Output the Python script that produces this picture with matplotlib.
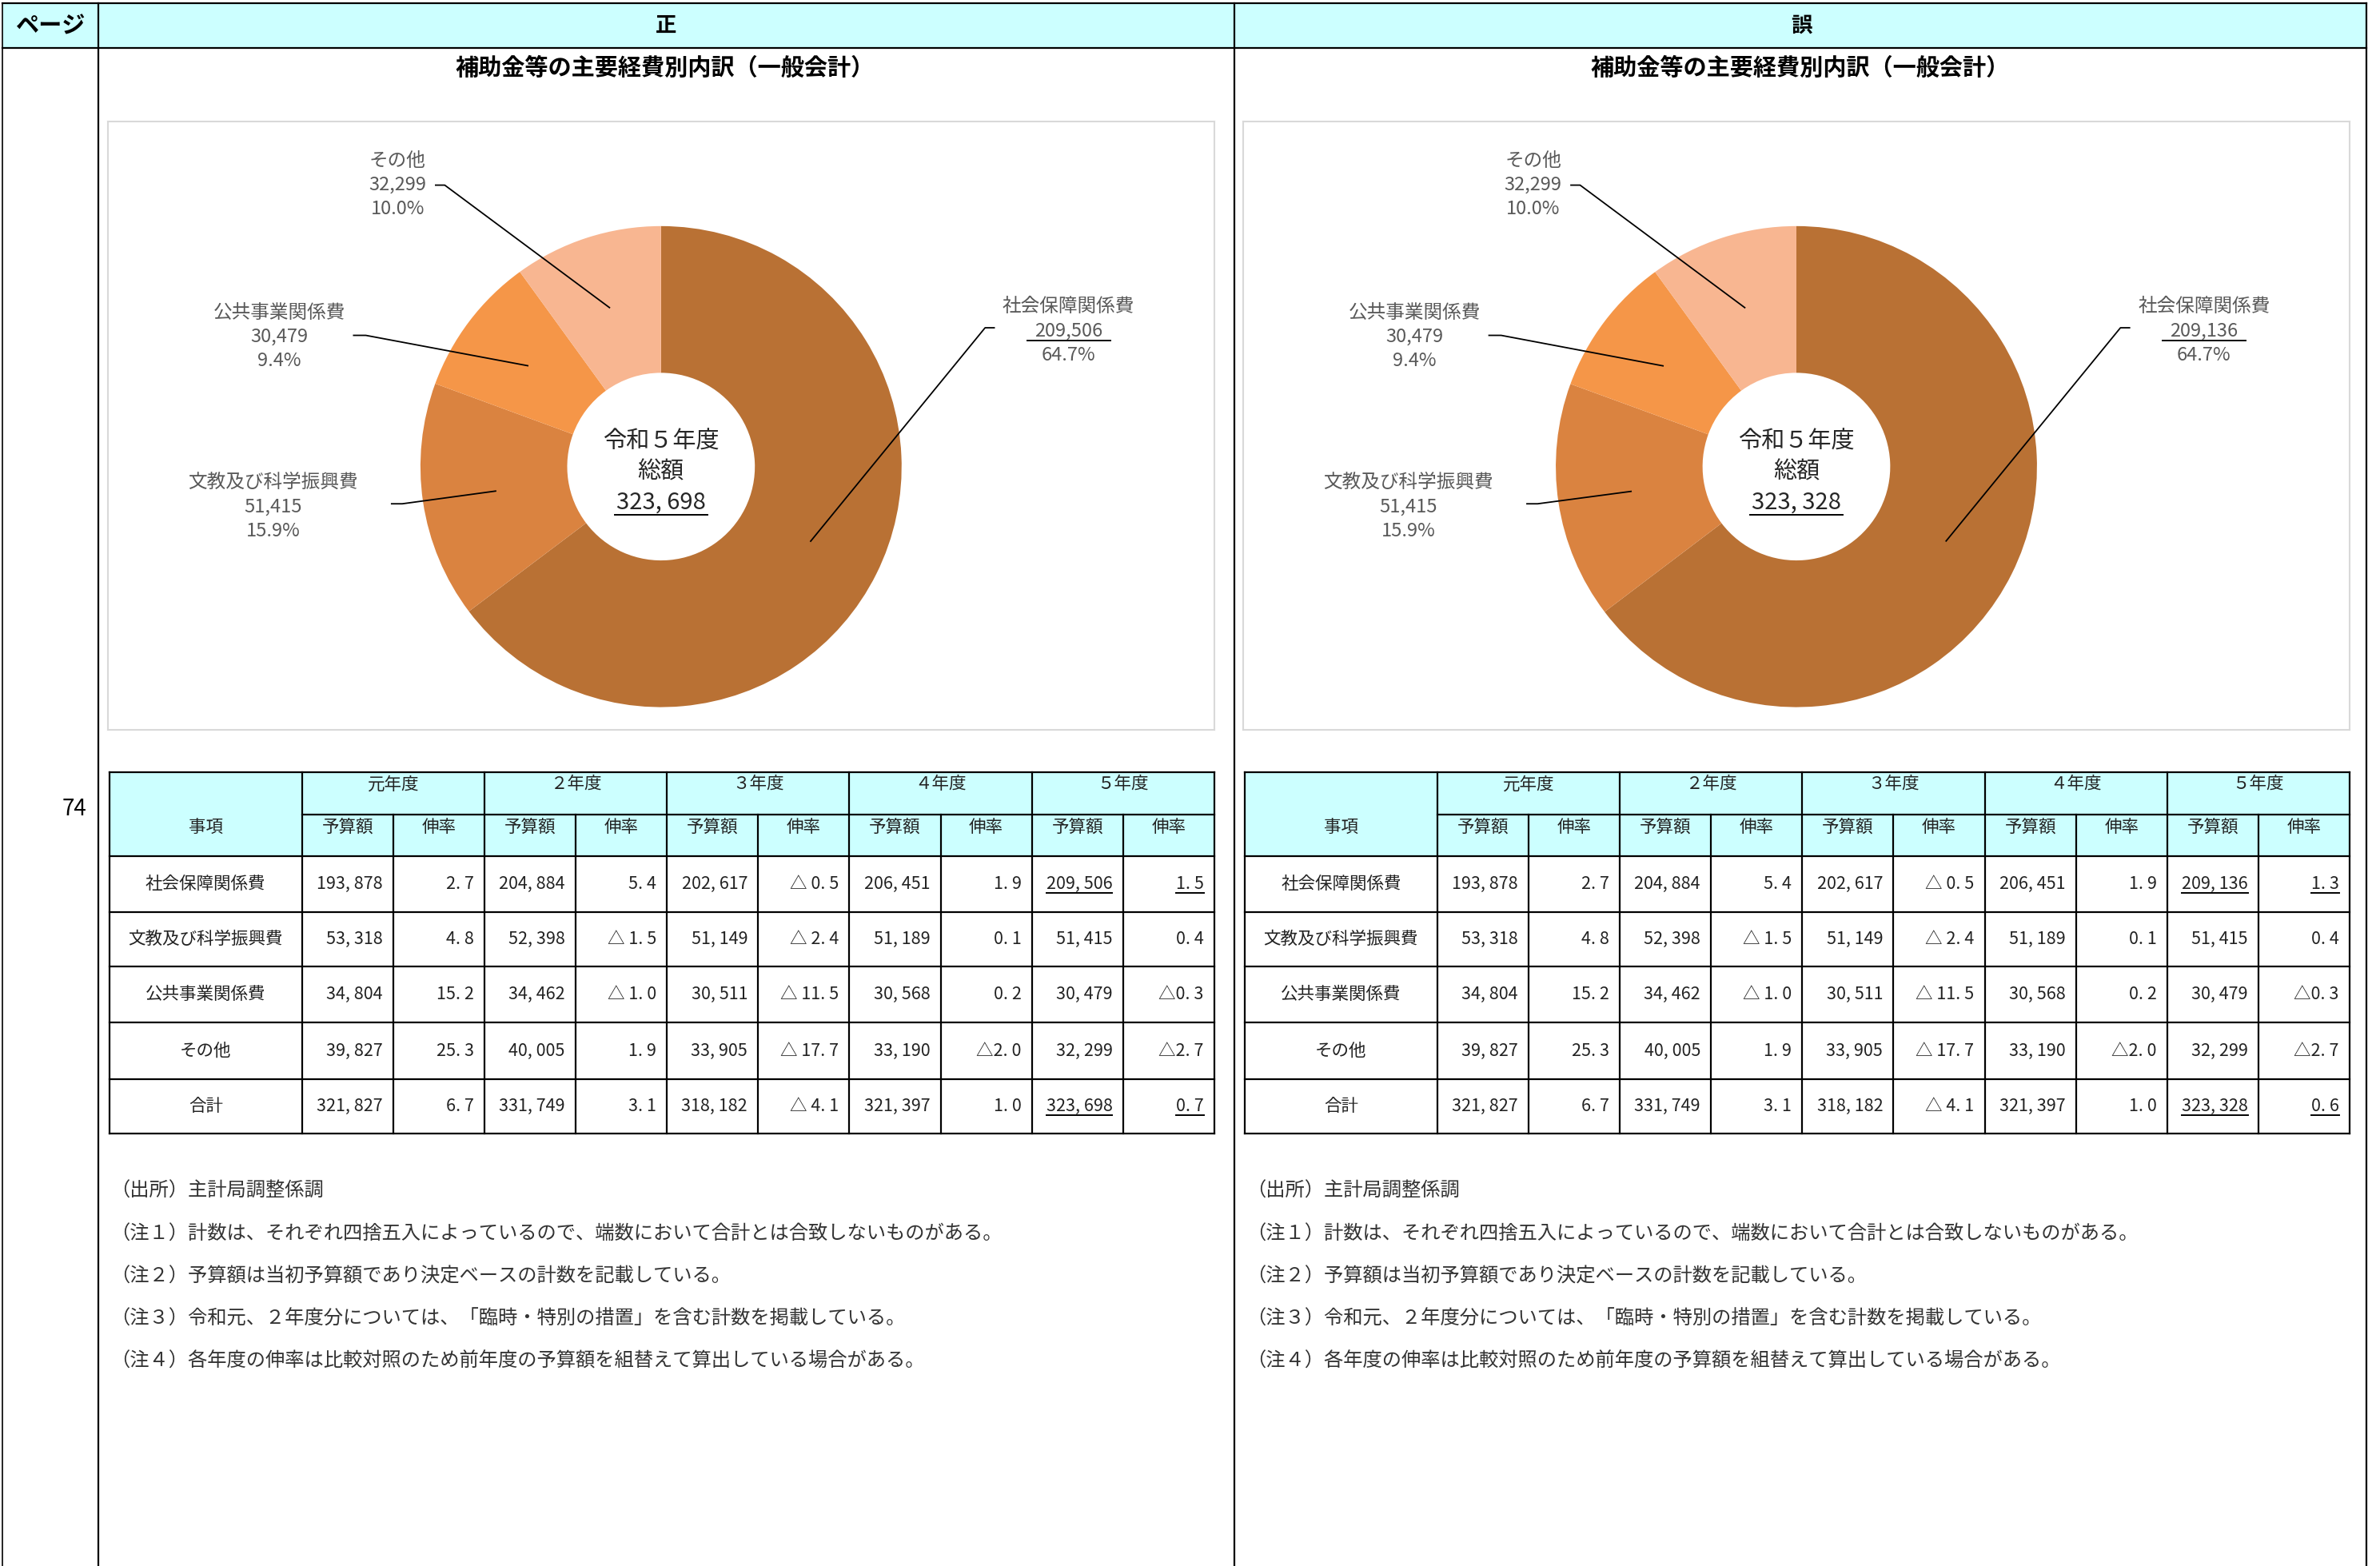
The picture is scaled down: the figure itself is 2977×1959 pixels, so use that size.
# 補助金等の主要経費別内訳 正誤表 (donut + table, two panels)

import math
import matplotlib.pyplot as plt
from matplotlib.patches import Rectangle

plt.rcParams['font.family'] = ['Noto Sans CJK JP', 'DejaVu Sans']

# donut data (令和5年度)
categories = ['社会保障関係費', '文教及び科学振興費', '公共事業関係費', 'その他']
values_correct = [209506, 51415, 30479, 32299]
values_wrong = [209136, 51415, 30479, 32299]
total_correct = 323698
total_wrong = 323328
colors = ['#B97134', '#DA8340', '#F59648', '#F8B691']

# table data
years = ['元年度', '２年度', '３年度', '４年度', '５年度']
rows = ['社会保障関係費', '文教及び科学振興費', '公共事業関係費', 'その他', '合計']
budget_y1 = [193878, 53318, 34804, 39827, 321827]
budget_y2 = [204884, 52398, 34462, 40005, 331749]
budget_y3 = [202617, 51149, 30511, 33905, 318182]
budget_y4 = [206451, 51189, 30568, 33190, 321397]
budget_y5_correct = [209506, 51415, 30479, 32299, 323698]
budget_y5_wrong = [209136, 51415, 30479, 32299, 323328]
growth_y1 = [2.7, 4.8, 15.2, 25.3, 6.7]
growth_y2 = [5.4, -1.5, -1.0, 1.9, 3.1]
growth_y3 = [-0.5, -2.4, -11.5, -17.7, -4.1]
growth_y4 = [1.9, 0.1, 0.2, -2.0, 1.0]
growth_y5_correct = [1.5, 0.4, -0.3, -2.7, 0.7]
growth_y5_wrong = [1.3, 0.4, -0.3, -2.7, 0.6]

notes = [
    '（出所）主計局調整係調',
    '（注１）計数は、それぞれ四捨五入によっているので、端数において合計とは合致しないものがある。',
    '（注２）予算額は当初予算額であり決定ベースの計数を記載している。',
    '（注３）令和元、２年度分については、「臨時・特別の措置」を含む計数を掲載している。',
    '（注４）各年度の伸率は比較対照のため前年度の予算額を組替えて算出している場合がある。',
]

W, H = 1568, 1032  # layout units (page scaled)
fig = plt.figure(figsize=(29.77, 19.59), dpi=100)
pg = fig.add_axes([0, 0, 1, 1])
pg.set_xlim(0, W)
pg.set_ylim(H, 0)
pg.axis('off')

LW = 1.6
HEAD = '#CCFFFF'
LABEL_C = '#595959'
TXT_C = '#222222'

# page frame
pg.add_patch(Rectangle((1.5, 2), 1557.5, 29.5, facecolor=HEAD, edgecolor='none'))
for y in [2, 31.5]:
    pg.plot([1.5, 1559], [y, y], color='black', lw=LW)
for x in [1.5, 65, 813, 1559]:
    pg.plot([x, x], [2, H], color='black', lw=LW if x != 1.5 else 1.2)
pg.text(33, 17, 'ページ', ha='center', va='center', fontsize=21, fontweight='bold')
pg.text(439, 17, '正', ha='center', va='center', fontsize=19, fontweight='bold')
pg.text(1187, 17, '誤', ha='center', va='center', fontsize=19, fontweight='bold')
pg.text(49, 533, '74', ha='center', va='center', fontsize=20)

underline_jobs = []


def fmt_num(v):
    return f'{v:,}'.replace(',', ', ')


def fmt_rate(v, gap):
    s = f'{abs(v):.1f}'.replace('.', '. ')
    return ('△' + gap + s) if v < 0 else s


def draw_panel(ox, vals, total, bud5, gr5):
    # title
    pg.text(ox + 438, 45, '補助金等の主要経費別内訳（一般会計）', ha='center', va='center',
            fontsize=21, fontweight='bold')

    # donut
    cx, cy, R = ox + 435.5, 307.5, 158.5
    bx0, by0, bx1, by1 = ox + 71, 80, ox + 800, 481
    ax = fig.add_axes([bx0 / W, 1 - by1 / H, (bx1 - bx0) / W, (by1 - by0) / H])
    ax.set_zorder(2)
    wedges, _ = ax.pie(vals, colors=colors, startangle=90, counterclock=False,
                       wedgeprops=dict(width=0.61, linewidth=0))
    ax.set_aspect('auto')
    ax.set_xlim((bx0 - cx) / R, (bx1 - cx) / R)
    ax.set_ylim((cy - by1) / R, (cy - by0) / R)
    ax.set_frame_on(True)
    ax.patch.set_alpha(0)
    for sp in ax.spines.values():
        sp.set_color('#D9D9D9')
        sp.set_linewidth(1.5)

    def d(x, y):
        return (x - cx) / R, (cy - y) / R

    # label layout: text centre x, first line y, leader start, knee offset
    lab = [
        (704, 202, (655, 216), -6),
        (180, 318, (258, 332), 7),
        (184, 206, (233, 221), 8),
        (262, 106, (287, 122), 6),
    ]
    s = sum(vals)
    for w, name, v, (tx, ty, (sx, sy), k) in zip(wedges, categories, vals, lab):
        tx += ox
        sx += ox
        ax.text(*d(tx, ty), name, ha='center', va='center', fontsize=17, color=LABEL_C)
        t2 = ax.text(*d(tx, ty + 16), f'{v:,}', ha='center', va='center', fontsize=17,
                     color=LABEL_C)
        ax.text(*d(tx, ty + 32), f'{v / s * 100:.1f}%', ha='center', va='center',
                fontsize=17, color=LABEL_C)
        if name == '社会保障関係費':
            underline_jobs.append((t2, 5))
        th = math.radians((w.theta1 + w.theta2) / 2)
        ex, ey = 0.695 * math.cos(th), 0.695 * math.sin(th)
        p0 = d(sx, sy)
        p1 = d(sx + k, sy)
        ax.plot([p0[0], p1[0], ex], [p0[1], p1[1], ey], color='black', lw=1.3,
                clip_on=False)

    ax.text(*d(cx, 291), '令和５年度', ha='center', va='center', fontsize=21, color='#262626')
    ax.text(*d(cx, 311), '総額', ha='center', va='center', fontsize=21, color='#262626')
    tc = ax.text(*d(cx, 331), fmt_num(total), ha='center', va='center', fontsize=21,
                 color='#262626')
    underline_jobs.append((tc, 1))

    # table
    cols = [ox + 72] + [ox + 199 + 60.1 * i for i in range(11)]
    ry = [509, 537, 564, 601, 637, 674, 711, 747]
    pg.add_patch(Rectangle((cols[0], ry[0]), cols[-1] - cols[0], ry[2] - ry[0],
                           facecolor=HEAD, edgecolor='none'))
    for i, y in enumerate(ry):
        xa = cols[1] if i == 1 else cols[0]
        pg.plot([xa, cols[-1]], [y, y], color='black', lw=LW)
    for j, x in enumerate(cols):
        ya = ry[1] if (j >= 2 and j % 2 == 0 and j != len(cols) - 1) else ry[0]
        pg.plot([x, x], [ya, ry[-1]], color='black', lw=LW)

    fs = 15.5
    pg.text((cols[0] + cols[1]) / 2, 545, '事項', ha='center', va='center', fontsize=fs,
            color=TXT_C)
    for g, yr in enumerate(years):
        a, b, c = cols[1 + 2 * g], cols[2 + 2 * g], cols[3 + 2 * g]
        pg.text((a + c) / 2, 517, yr, ha='center', va='center', fontsize=fs, color=TXT_C)
        pg.text((a + b) / 2, 545, '予算額', ha='center', va='center', fontsize=fs, color=TXT_C)
        pg.text((b + c) / 2, 545, '伸率', ha='center', va='center', fontsize=fs, color=TXT_C)

    budgets = [budget_y1, budget_y2, budget_y3, budget_y4, bud5]
    growths = [growth_y1, growth_y2, growth_y3, growth_y4, gr5]
    gaps = [' ', ' ', ' ', '', '']
    for r, name in enumerate(rows):
        yc = (ry[r + 2] + ry[r + 3]) / 2
        pg.text((cols[0] + cols[1]) / 2, yc, name, ha='center', va='center', fontsize=fs,
                color=TXT_C)
        for g in range(5):
            tb = pg.text(cols[2 + 2 * g] - 7, yc, fmt_num(budgets[g][r]), ha='right',
                         va='center', fontsize=fs, color=TXT_C)
            tr = pg.text(cols[3 + 2 * g] - 7, yc, fmt_rate(growths[g][r], gaps[g]),
                         ha='right', va='center', fontsize=fs, color=TXT_C)
            if g == 4 and r in (0, 4):
                underline_jobs.append((tb, 0))
                underline_jobs.append((tr, 0))

    # notes
    for i, n in enumerate(notes):
        pg.text(ox + 73, 785 + 28 * i, n, ha='left', va='center', fontsize=17.5,
                color='#333333')


draw_panel(0, values_correct, total_correct, budget_y5_correct, growth_y5_correct)
draw_panel(748, values_wrong, total_wrong, budget_y5_wrong, growth_y5_wrong)

fig.canvas.draw()
renderer = fig.canvas.get_renderer()
inv = pg.transData.inverted()
for t, pad in underline_jobs:
    bb = t.get_window_extent(renderer)
    (x0, yb), (x1, yt) = inv.transform([[bb.x0, bb.y0], [bb.x1, bb.y1]])
    yl = yb + 0.02 * (yb - yt)
    pg.plot([x0 - pad, x1 + pad], [yl, yl], color='black', lw=1.4, zorder=5)

fig.savefig('out.png', dpi=100)
